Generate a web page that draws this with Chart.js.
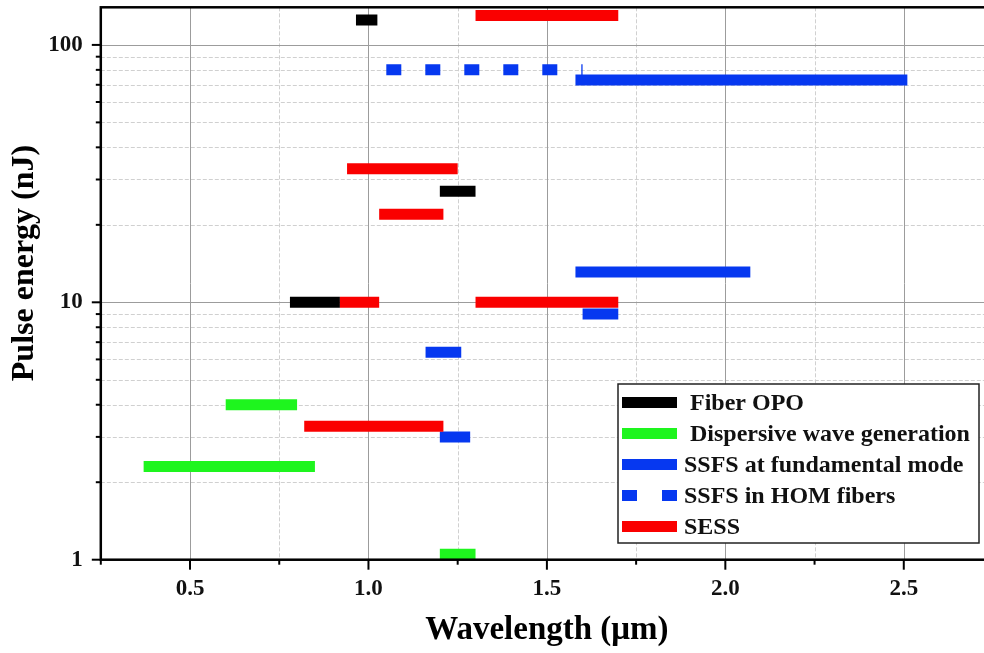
<!DOCTYPE html>
<html>
<head>
<meta charset="utf-8">
<script src="https://cdn.jsdelivr.net/npm/chart.js@4"></script>
<style>
  html, body { margin: 0; padding: 0; overflow: hidden; background: #fff; }
  #wrap { position: relative; width: 996px; height: 653px; }
</style>
</head>
<body>
<div id="wrap"><canvas id="myChart"></canvas></div>
<script>
const seriesNames = [' Fiber OPO', ' Dispersive wave generation', 'SSFS at fundamental mode', 'SSFS in HOM fibers', 'SESS'];
const seriesColors = ['#000000', '#1ef51e', '#0638f0', '#0638f0', '#fa0000'];

// each bar: start wavelength (um), end wavelength (um), pulse energy (nJ)
const opoStart = [0.965, 1.20, 0.78];
const opoEnd = [1.025, 1.30, 0.92];
const opoEnergy = [125, 27, 10];

const dwStart = [0.60, 0.37, 1.20];
const dwEnd = [0.80, 0.85, 1.30];
const dwEnergy = [4, 2.3, 1.05];

const ssfsStart = [1.58, 1.58, 1.60, 1.16, 1.20];
const ssfsEnd = [2.51, 2.07, 1.70, 1.26, 1.285];
const ssfsEnergy = [73, 13.1, 9, 6.4, 3];

const homStart = [1.05];
const homEnd = [1.60];
const homEnergy = [80];

const sessStart = [1.30, 0.94, 1.03, 0.92, 1.30, 0.82];
const sessEnd = [1.70, 1.25, 1.21, 1.03, 1.70, 1.21];
const sessEnergy = [130, 33, 22, 10, 10, 3.3];

const xTicks = [0.5, 1.0, 1.5, 2.0, 2.5];
const xTickLabels = ['0.5', '1.0', '1.5', '2.0', '2.5'];
const xMinorTicks = [0.25, 0.75, 1.25, 1.75, 2.25, 2.75];
const yTicks = [1, 10, 100];
const yTickLabels = ['1', '10', '100'];
const yMinorTicks = [2, 3, 4, 5, 6, 7, 8, 9, 20, 30, 40, 50, 60, 70, 80, 90];

const xTitle = 'Wavelength (\u03bcm)';
const yTitle = 'Pulse energy (nJ)';

const serif = "'Liberation Serif', 'Times New Roman', serif";

function bars(starts, ends, energies, k) {
  return energies.map((e, i) => ({
    label: seriesNames[k],
    data: [{x: starts[i], y: e}, {x: ends[i], y: e}],
    borderColor: seriesColors[k],
    backgroundColor: seriesColors[k],
    borderWidth: 11,
    borderCapStyle: 'butt',
    borderDash: k === 3 ? [15, 24] : [],
    pointRadius: 0,
    showLine: true,
    order: k === 4 ? 0 : 1
  }));
}

const datasets = [].concat(
  bars(opoStart, opoEnd, opoEnergy, 0),
  bars(dwStart, dwEnd, dwEnergy, 1),
  bars(ssfsStart, ssfsEnd, ssfsEnergy, 2),
  bars(homStart, homEnd, homEnergy, 3),
  bars(sessStart, sessEnd, sessEnergy, 4)
);

function seg(ctx, x1, y1, x2, y2) {
  ctx.beginPath();
  ctx.moveTo(x1, y1);
  ctx.lineTo(x2, y2);
  ctx.stroke();
}

function noPad(s) {
  s.paddingTop = 0;
  s.paddingBottom = 0;
  s.paddingLeft = 0;
  s.paddingRight = 0;
}

const framePlugin = {
  id: 'frame',
  beforeDatasetsDraw(chart) {
    const {ctx, chartArea: a, scales: {x, y}} = chart;
    ctx.save();
    ctx.lineWidth = 1;
    ctx.strokeStyle = '#d0d0d0';
    ctx.setLineDash([4, 2]);
    xMinorTicks.forEach(v => {
      const p = Math.round(x.getPixelForValue(v)) + 0.5;
      seg(ctx, p, a.top, p, a.bottom);
    });
    yMinorTicks.forEach(v => {
      const p = Math.round(y.getPixelForValue(v)) + 0.5;
      seg(ctx, a.left, p, a.right, p);
    });
    ctx.setLineDash([]);
    ctx.strokeStyle = '#9c9c9c';
    xTicks.forEach(v => {
      const p = Math.round(x.getPixelForValue(v)) + 0.5;
      seg(ctx, p, a.top, p, a.bottom);
    });
    yTicks.forEach(v => {
      const p = Math.round(y.getPixelForValue(v)) + 0.5;
      seg(ctx, a.left, p, a.right, p);
    });
    ctx.restore();
  },
  afterDatasetsDraw(chart) {
    const {ctx, chartArea: a, scales: {x, y}} = chart;
    ctx.save();
    // frame
    ctx.strokeStyle = '#000';
    ctx.lineWidth = 2.5;
    ctx.strokeRect(a.left, a.top, a.right - a.left, a.bottom - a.top);
    // tick marks
    ctx.lineWidth = 2;
    xTicks.forEach(v => { const p = x.getPixelForValue(v); seg(ctx, p, a.bottom, p, a.bottom + 10); });
    xMinorTicks.forEach(v => { const p = x.getPixelForValue(v); seg(ctx, p, a.bottom, p, a.bottom + 5); });
    yTicks.forEach(v => { const p = y.getPixelForValue(v); seg(ctx, a.left - 9, p, a.left, p); });
    yMinorTicks.forEach(v => { const p = y.getPixelForValue(v); seg(ctx, a.left - 5, p, a.left, p); });

    // axis titles
    ctx.fillStyle = '#000';
    ctx.textAlign = 'center';
    ctx.textBaseline = 'middle';
    ctx.font = 'bold 33px ' + serif;
    ctx.fillText(xTitle, (a.left + a.right) / 2, 630);
    ctx.font = 'bold 32px ' + serif;
    ctx.save();
    ctx.translate(25, 263);
    ctx.rotate(-Math.PI / 2);
    ctx.fillText(yTitle, 0, 0);
    ctx.restore();

    // legend
    const bx = 618, by = 384, bw = 361, bh = 159;
    ctx.fillStyle = '#fff';
    ctx.fillRect(bx, by, bw, bh);
    ctx.strokeStyle = '#222';
    ctx.lineWidth = 1.5;
    ctx.strokeRect(bx, by, bw, bh);
    ctx.font = 'bold 24px ' + serif;
    ctx.textAlign = 'left';
    seriesNames.forEach((name, k) => {
      const ly = by + 18.5 + 31 * k;
      ctx.strokeStyle = seriesColors[k];
      ctx.lineWidth = 11;
      ctx.lineCap = 'butt';
      ctx.setLineDash(k === 3 ? [15, 25] : []);
      seg(ctx, 622, ly, 677, ly);
      ctx.setLineDash([]);
      ctx.fillStyle = '#111';
      ctx.fillText(name, 684, ly + 1);
    });
    ctx.restore();
  }
};

new Chart(document.getElementById('myChart'), {
  type: 'scatter',
  data: { datasets: datasets },
  options: {
    responsive: true,
    maintainAspectRatio: false,
    animation: false,
    layout: { padding: { top: 7.3, right: 3, left: 0, bottom: 0 } },
    plugins: { legend: { display: false }, tooltip: { enabled: false } },
    scales: {
      x: {
        type: 'linear',
        min: 0.25,
        max: 2.75,
        afterBuildTicks: s => { s.ticks = xMinorTicks.concat(xTicks).sort((p, q) => p - q).map(v => ({value: v})); },
        afterFit: s => { s.height = 93.3; noPad(s); },
        grid: { display: false, drawTicks: false },
        border: { display: false },
        ticks: {
          autoSkip: false,
          maxRotation: 0,
          padding: 16,
          color: '#111',
          font: { family: serif, size: 23, weight: 'bold' },
          callback: v => { const i = xTicks.indexOf(v); return i >= 0 ? xTickLabels[i] : ''; }
        }
      },
      y: {
        type: 'logarithmic',
        min: 1,
        max: 140,
        afterBuildTicks: s => { s.ticks = yTicks.concat(yMinorTicks).sort((p, q) => p - q).map(v => ({value: v})); },
        afterFit: s => { s.width = 100.8; noPad(s); },
        grid: { display: false, drawTicks: false },
        border: { display: false },
        ticks: {
          autoSkip: false,
          padding: 18,
          color: '#111',
          font: { family: serif, size: 23, weight: 'bold' },
          callback: v => { const i = yTicks.indexOf(v); return i >= 0 ? yTickLabels[i] : ''; }
        }
      }
    }
  },
  plugins: [framePlugin]
});
</script>
</body>
</html>
